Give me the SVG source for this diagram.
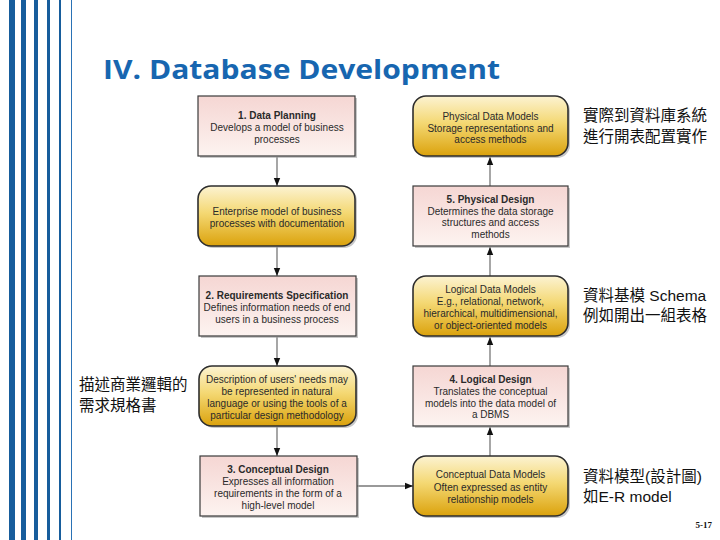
<svg xmlns="http://www.w3.org/2000/svg" width="720" height="540" viewBox="0 0 720 540">
<defs>
<linearGradient id="pink" x1="0" y1="0" x2="0" y2="1">
<stop offset="0" stop-color="#f5d6d3"/>
<stop offset="1" stop-color="#fdf3f0"/>
</linearGradient>
<linearGradient id="gold" x1="0" y1="0" x2="0" y2="1">
<stop offset="0" stop-color="#fcf3d2"/>
<stop offset="0.45" stop-color="#f4d873"/>
<stop offset="1" stop-color="#dba20c"/>
</linearGradient>
<marker id="ah" markerUnits="userSpaceOnUse" markerWidth="8" markerHeight="8" viewBox="0 0 8 8" refX="8" refY="4" orient="auto">
<path d="M0,0.8 L8,4 L0,7.2 Z" fill="#111"/>
</marker>
<style>
.stripe{fill:#175d9c}
.rect{fill:url(#pink);stroke:#3a3a3a;stroke-width:1.2}
.rnd{fill:url(#gold);stroke:#2e2e2e;stroke-width:1.6}
.shadow{fill:#9a9a9a;opacity:0.55}
.t{font-family:"Liberation Sans",Arial,sans-serif;font-size:10px;fill:#2a2a2a;text-anchor:middle}
.b{font-weight:bold}
.cjk{font-family:"Liberation Sans","Noto Sans CJK TC",sans-serif;font-size:15.5px;fill:#111}
.conn{stroke:#777;stroke-width:1.3;fill:none;marker-end:url(#ah)}
</style>
</defs>
<rect width="720" height="540" fill="#ffffff"/>
<g id="stripes">
<rect class="stripe" x="9" y="0" width="6" height="540"/>
<rect class="stripe" x="21" y="0" width="5" height="540"/>
<rect class="stripe" x="34" y="0" width="4" height="540"/>
<rect class="stripe" x="47" y="0" width="3" height="540"/>
<rect class="stripe" x="59" y="0" width="2" height="540"/>
<rect x="71" y="0" width="1" height="540" fill="#2a72b5"/>
</g>
<text id="title" x="103" y="79" font-family="'Open Sans','Noto Sans',sans-serif" font-weight="bold" font-size="27" fill="#1766b0" textLength="397" lengthAdjust="spacingAndGlyphs">IV. Database Development</text>

<g id="connectors">
<line class="conn" x1="277" y1="157" x2="277" y2="186"/>
<line class="conn" x1="277" y1="247" x2="277" y2="276"/>
<line class="conn" x1="277" y1="337" x2="277" y2="366"/>
<line class="conn" x1="277" y1="427" x2="277" y2="456"/>
<line class="conn" x1="357" y1="486" x2="413" y2="486"/>
<line class="conn" x1="490" y1="456" x2="490" y2="427"/>
<line class="conn" x1="490" y1="366" x2="490" y2="337"/>
<line class="conn" x1="490" y1="276" x2="490" y2="247"/>
<line class="conn" x1="490" y1="186" x2="490" y2="157"/>
</g>

<g id="n1">
<rect class="shadow" x="200" y="98" width="157" height="60"/>
<rect class="rect" x="198" y="96" width="157" height="60"/>
<text class="t b" x="277" y="119">1. Data Planning</text>
<text class="t" x="277" y="131">Develops a model of business</text>
<text class="t" x="277" y="143">processes</text>
</g>
<g id="n2">
<rect class="shadow" x="200" y="188" width="157" height="60" rx="13"/>
<rect class="rnd" x="198" y="186" width="157" height="60" rx="13"/>
<text class="t" x="277" y="215">Enterprise model of business</text>
<text class="t" x="277" y="227">processes with documentation</text>
</g>
<g id="n3">
<rect class="shadow" x="201" y="278" width="157" height="60"/>
<rect class="rect" x="199" y="276" width="157" height="60"/>
<text class="t b" x="277" y="299">2. Requirements Specification</text>
<text class="t" x="277" y="311">Defines information needs of end</text>
<text class="t" x="277" y="323">users in a business process</text>
</g>
<g id="n4">
<rect class="shadow" x="201" y="368" width="157" height="60" rx="13"/>
<rect class="rnd" x="199" y="366" width="157" height="60" rx="13"/>
<text class="t" x="277" y="383">Description of users' needs may</text>
<text class="t" x="277" y="395">be represented in natural</text>
<text class="t" x="277" y="407">language or using the tools of a</text>
<text class="t" x="277" y="419">particular design methodology</text>
</g>
<g id="n5">
<rect class="shadow" x="202" y="458" width="157" height="60"/>
<rect class="rect" x="200" y="456" width="157" height="60"/>
<text class="t b" x="278" y="473">3. Conceptual Design</text>
<text class="t" x="278" y="485">Expresses all information</text>
<text class="t" x="278" y="497">requirements in the form of a</text>
<text class="t" x="278" y="509">high-level model</text>
</g>

<g id="n6">
<rect class="shadow" x="415" y="98" width="155" height="60" rx="13"/>
<rect class="rnd" x="413" y="96" width="155" height="60" rx="13"/>
<text class="t" x="490.5" y="120">Physical Data Models</text>
<text class="t" x="490.5" y="131.5">Storage representations and</text>
<text class="t" x="490.5" y="143">access methods</text>
</g>
<g id="n7">
<rect class="shadow" x="415" y="188" width="155" height="60"/>
<rect class="rect" x="413" y="186" width="155" height="60"/>
<text class="t b" x="490.5" y="203">5. Physical Design</text>
<text class="t" x="490.5" y="214.5">Determines the data storage</text>
<text class="t" x="490.5" y="226">structures and access</text>
<text class="t" x="490.5" y="237.5">methods</text>
</g>
<g id="n8">
<rect class="shadow" x="415" y="278" width="155" height="60" rx="13"/>
<rect class="rnd" x="413" y="276" width="155" height="60" rx="13"/>
<text class="t" x="490.5" y="293">Logical Data Models</text>
<text class="t" x="490.5" y="305">E.g., relational, network,</text>
<text class="t" x="490.5" y="317">hierarchical, multidimensional,</text>
<text class="t" x="490.5" y="328.5">or object-oriented models</text>
</g>
<g id="n9">
<rect class="shadow" x="415" y="368" width="155" height="60"/>
<rect class="rect" x="413" y="366" width="155" height="60"/>
<text class="t b" x="490.5" y="383">4. Logical Design</text>
<text class="t" x="490.5" y="395">Translates the conceptual</text>
<text class="t" x="490.5" y="406.5">models into the data model of</text>
<text class="t" x="490.5" y="418">a DBMS</text>
</g>
<g id="n10">
<rect class="shadow" x="415" y="458" width="155" height="60" rx="13"/>
<rect class="rnd" x="413" y="456" width="155" height="60" rx="13"/>
<text class="t" x="490.5" y="478">Conceptual Data Models</text>
<text class="t" x="490.5" y="490.5">Often expressed as entity</text>
<text class="t" x="490.5" y="503">relationship models</text>
</g>

<g id="notes">
<text class="cjk" x="583" y="121">實際到資料庫系統</text>
<text class="cjk" x="583" y="142">進行開表配置實作</text>
<text class="cjk" x="583" y="301">資料基模 Schema</text>
<text class="cjk" x="583" y="321">例如開出一組表格</text>
<text class="cjk" x="79" y="390">描述商業邏輯的</text>
<text class="cjk" x="79" y="411">需求規格書</text>
<text class="cjk" x="583" y="482">資料模型(設計圖)</text>
<text class="cjk" x="583" y="502">如E-R model</text>
</g>
<text id="page" x="712" y="528" text-anchor="end" font-family="'Liberation Serif',serif" font-weight="bold" font-size="9" fill="#111">5-17</text>
</svg>
